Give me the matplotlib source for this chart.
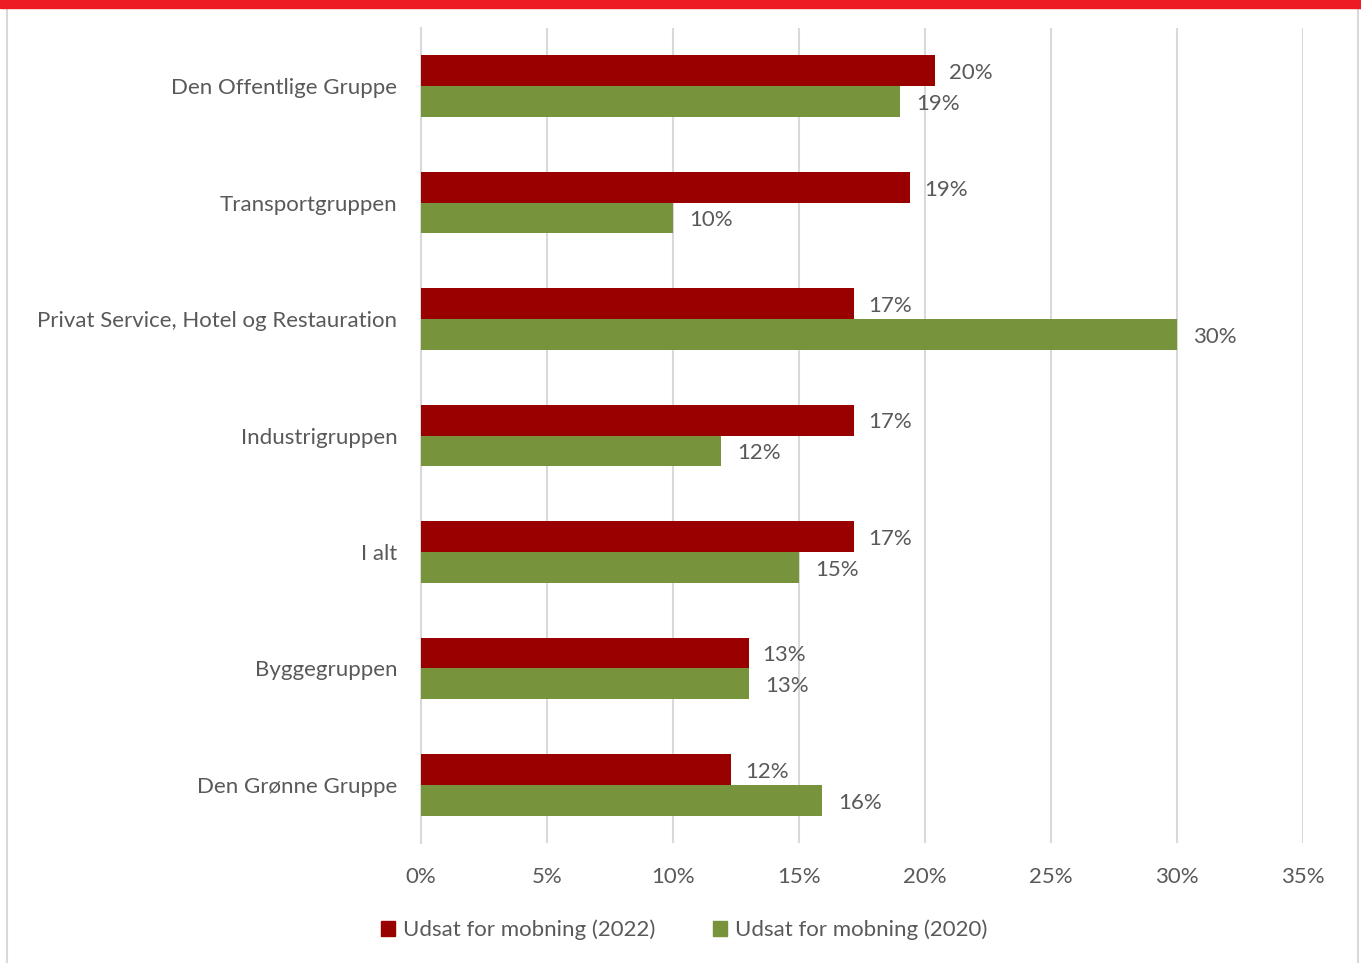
import numpy as np
import matplotlib.pyplot as plt
from matplotlib.patches import Rectangle
from matplotlib.lines import Line2D

plt.rcParams['font.family'] = ['Lato', 'DejaVu Sans']

# data (top to bottom as shown)
categories = ["Den Offentlige Gruppe", "Transportgruppen",
              "Privat Service, Hotel og Restauration", "Industrigruppen",
              "I alt", "Byggegruppen", "Den Grønne Gruppe"]
mob_2022 = [20.4, 19.4, 17.2, 17.2, 17.2, 13.0, 12.3]
mob_2020 = [19.0, 10.0, 30.0, 11.9, 15.0, 13.0, 15.9]
series_names = ["Udsat for mobning (2022)", "Udsat for mobning (2020)"]
xticks = [0, 5, 10, 15, 20, 25, 30, 35]

red = "#990000"
green = "#77933C"
txt = "#595959"
grid = "#d9d9d9"
fs = 16

fig = plt.figure(figsize=(13.61, 9.63), dpi=100)
W, H = 1361, 963
ax = fig.add_axes([421 / W, 1 - 843 / H, (1303 - 421) / W, (843 - 28) / H])

y = np.arange(len(categories))
h = 0.265
ax.barh(y - h / 2, mob_2022, height=h, color=red, zorder=3)
ax.barh(y + h / 2, mob_2020, height=h, color=green, zorder=3)

for yi, v in zip(y, mob_2022):
    ax.text(v + 0.55, yi - h / 2 + 0.02, f"{v:.0f}%", va="center", ha="left",
            fontsize=fs, color=txt)
for yi, v in zip(y, mob_2020):
    ax.text(v + 0.65, yi + h / 2 + 0.02, f"{v:.0f}%", va="center", ha="left",
            fontsize=fs, color=txt)

ax.set_xlim(0, 35)
ax.set_ylim(len(categories) - 0.5, -0.5)
ax.set_xticks(xticks)
ax.set_xticklabels([f"{t}%" for t in xticks], fontsize=fs, color=txt)
ax.set_yticks(y)
ax.set_yticklabels(categories, fontsize=fs, color=txt)
ax.tick_params(axis="x", length=0, pad=17)
ax.tick_params(axis="y", length=0, pad=17)
ax.xaxis.grid(True, color=grid, linewidth=1.5, zorder=0)
for s in ["top", "right", "bottom"]:
    ax.spines[s].set_visible(False)
ax.spines["left"].set_color(grid)
ax.spines["left"].set_linewidth(1.5)

handles = [Rectangle((0, 0), 1, 1, color=red), Rectangle((0, 0), 1, 1, color=green)]
fig.legend(handles, series_names, loc="center", bbox_to_anchor=(684 / W, 1 - 930 / H),
           ncol=2, frameon=False, fontsize=fs, handlelength=0.65, handleheight=0.65,
           handletextpad=0.35, columnspacing=2.6, labelcolor=txt)

# frame decoration: red strip on top, light gray side borders
fig.add_artist(Rectangle((0, 1 - 8 / H), 1, 8 / H, transform=fig.transFigure,
                         color="#ED1C24", zorder=5))
fig.add_artist(Line2D([6.5 / W, 6.5 / W], [0, 1 - 8 / H], transform=fig.transFigure,
                      color=grid, linewidth=1.5))
fig.add_artist(Line2D([1357.5 / W, 1357.5 / W], [0, 1 - 8 / H], transform=fig.transFigure,
                      color=grid, linewidth=1.5))

fig.savefig("out.png", dpi=100, facecolor="white")
